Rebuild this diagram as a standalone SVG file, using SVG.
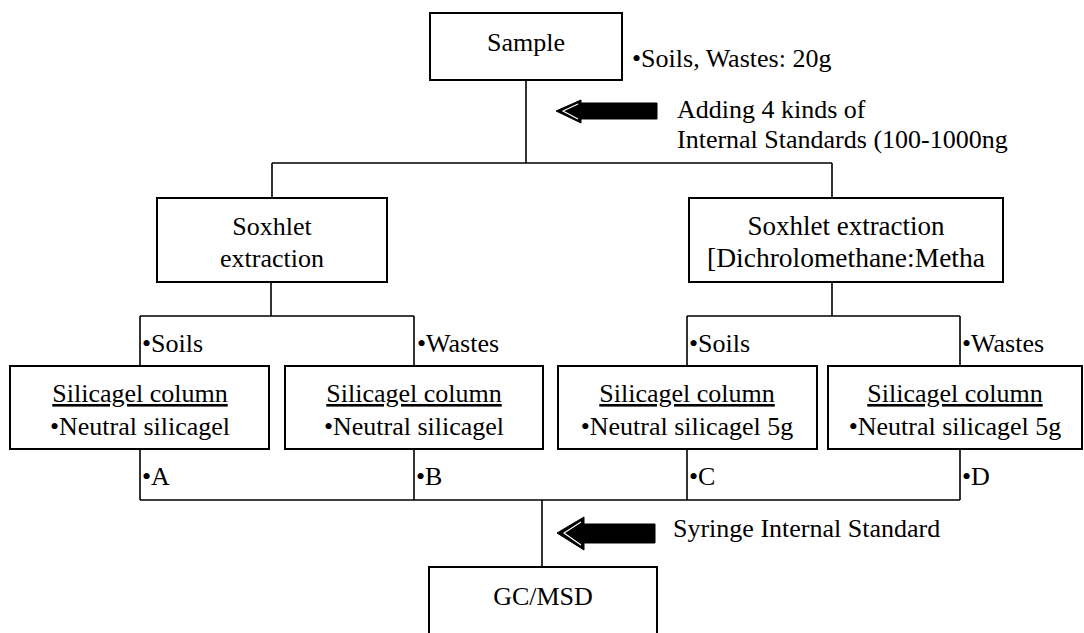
<svg xmlns="http://www.w3.org/2000/svg" width="1084" height="633" viewBox="0 0 1084 633">
<style>
text{font-family:"Liberation Serif","Times New Roman",serif;font-size:26px;fill:#000}
.c{text-anchor:middle}
.box{fill:#fff;stroke:#000;stroke-width:2}
.ln{fill:none;stroke:#000;stroke-width:1.6}
.arr{fill:#000;stroke:#000;stroke-width:1}
.hl{fill:none;stroke:#fff;stroke-width:1.2}
</style>
<rect width="1084" height="633" fill="#fff"/>
<g id="connectors">
<path class="ln" d="M526 80V163M272 163H832M272 163V198M832 163V198"/>
<path class="ln" d="M271 282V316M140 316H414M140 316V366M414 316V366"/>
<path class="ln" d="M832 282V316M687 316H960M687 316V366M960 316V366"/>
<path class="ln" d="M140 449V500M414 449V500M687 449V500M960 449V500M140 500H960M542 500V567"/>
</g>
<g id="sample">
<rect class="box" x="430" y="13" width="192" height="67"/>
<text class="c" x="526" y="51">Sample</text>
</g>
<text x="632" y="67">•Soils, Wastes: 20g</text>
<g id="arrow1">
<polygon class="arr" points="556,111 581,100 581,103 657,103 657,119 581,119 581,123"/>
<polyline class="hl" points="578,104 563,111 578,119"/>
</g>
<text x="677" y="118">Adding 4 kinds of</text>
<text x="677" y="148">Internal Standards (100-1000ng</text>
<g id="soxhlet1">
<rect class="box" x="157" y="198" width="230" height="84"/>
<text class="c" x="272" y="235">Soxhlet</text>
<text class="c" x="272" y="267">extraction</text>
</g>
<g id="soxhlet2">
<rect class="box" x="689" y="198" width="314" height="84"/>
<text class="c" x="846" y="235" style="font-size:27px">Soxhlet extraction</text>
<text class="c" x="846" y="267" style="font-size:27.5px">[Dichrolomethane:Metha</text>
</g>
<g id="labels">
<text x="142" y="352">•Soils</text>
<text x="417" y="352">•Wastes</text>
<text x="689" y="352">•Soils</text>
<text x="962" y="352">•Wastes</text>
<text x="142" y="485">•A</text>
<text x="416" y="485">•B</text>
<text x="689" y="485">•C</text>
<text x="962" y="485">•D</text>
</g>
<g id="sil1">
<rect class="box" x="10" y="366" width="259" height="83"/>
<text class="c" x="140" y="402" text-decoration="underline">Silicagel column</text>
<text class="c" x="140" y="435">•Neutral silicagel</text>
</g>
<g id="sil2">
<rect class="box" x="285" y="366" width="258" height="83"/>
<text class="c" x="414" y="402" text-decoration="underline">Silicagel column</text>
<text class="c" x="414" y="435">•Neutral silicagel</text>
</g>
<g id="sil3">
<rect class="box" x="558" y="366" width="259" height="83"/>
<text class="c" x="687" y="402" text-decoration="underline">Silicagel column</text>
<text class="c" x="687" y="435">•Neutral silicagel 5g</text>
</g>
<g id="sil4">
<rect class="box" x="828" y="366" width="254" height="83"/>
<text class="c" x="955" y="402" text-decoration="underline">Silicagel column</text>
<text class="c" x="955" y="435">•Neutral silicagel 5g</text>
</g>
<g id="arrow2">
<polygon class="arr" points="557,533 584,517 584,524 655,524 655,543 584,543 584,550"/>
<polyline class="hl" points="581,522 564,533 581,545"/>
</g>
<text x="673" y="537">Syringe Internal Standard</text>
<g id="gcmsd">
<rect class="box" x="429" y="567" width="228" height="80"/>
<text class="c" x="543" y="605">GC/MSD</text>
</g>
</svg>
